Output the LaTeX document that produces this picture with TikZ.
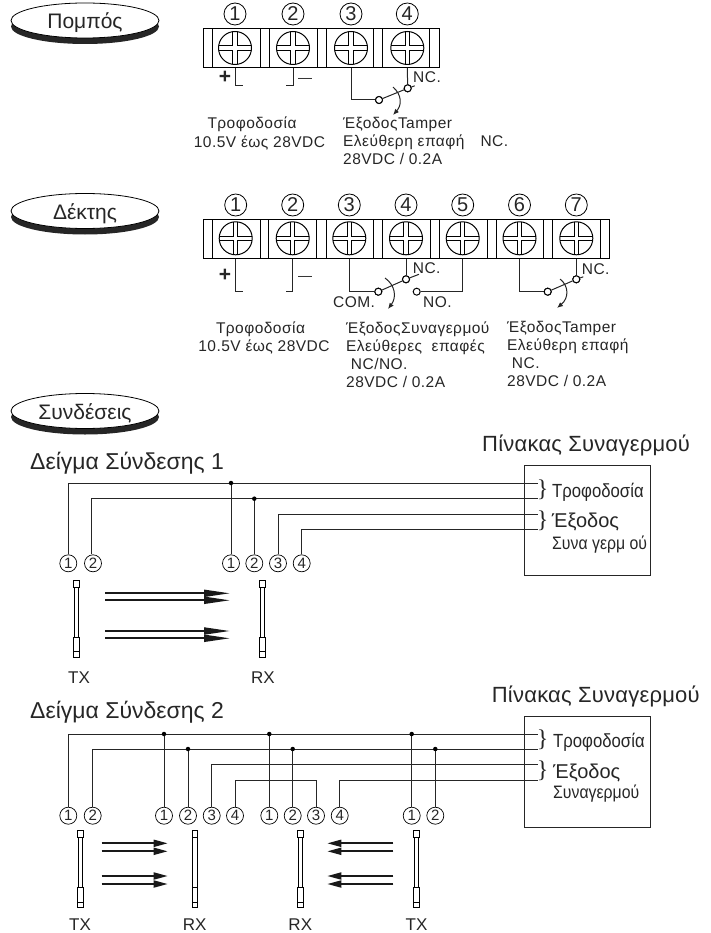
\documentclass[tikz,border=0pt]{standalone}
\usepackage{fontspec}
\setmainfont{Liberation Sans}
\newfontfamily\narrowfont[FakeStretch=0.88]{Liberation Sans}
\newfontfamily\widefont[LetterSpace=3]{Liberation Sans}
\newfontfamily\panelfont[LetterSpace=1]{Liberation Sans}
\newfontfamily\bracefont{Liberation Serif}
\usetikzlibrary{arrows.meta,shapes.geometric}

\tikzset{
  x=1pt, y=-1pt,
  every node/.style={inner sep=0pt, text=black!85},
  txt/.style={font=\widefont\fontsize{15.5}{18}\selectfont, align=left},
  title/.style={font=\fontsize{23}{26}\selectfont},
  paneltitle/.style={font=\panelfont\fontsize{22}{26}\selectfont},
  wire/.style={line width=1pt, black!85},
  num/.style={circle, draw, line width=0.8pt, minimum size=22pt, font=\fontsize{20}{20}\selectfont},
  smallnum/.style={circle, draw, line width=0.7pt, minimum size=17pt, font=\fontsize{15}{15}\selectfont},
  contact/.style={circle, draw, fill=white, line width=1pt, minimum size=7pt},
  dot/.style={circle, fill=black, minimum size=4.5pt},
  screw/.style={circle, draw, line width=1pt, minimum size=33pt, path picture={
      \draw[line width=1pt] ([xshift=-20pt,yshift=2.1pt]path picture bounding box.center) -- ++(40,0);
      \draw[line width=1pt] ([xshift=-20pt,yshift=-2.1pt]path picture bounding box.center) -- ++(40,0);
      \draw[line width=1pt] ([xshift=-2.1pt,yshift=-20pt]path picture bounding box.center) -- ++(0,-40);
      \draw[line width=1pt] ([xshift=2.1pt,yshift=-20pt]path picture bounding box.center) -- ++(0,-40);
      \fill[white] ([xshift=-1.6pt,yshift=-20pt]path picture bounding box.center) rectangle ++(3.2,-40);
      \fill[white] ([xshift=-20pt,yshift=-1.6pt]path picture bounding box.center) rectangle ++(40,-3.2);
  }},
  beam/.style={line width=1.8pt, black!90, -{Stealth[inset=0pt,length=14pt,width=7pt]}},
  longbeam/.style={line width=1.8pt, black!90, -{Stealth[inset=0pt,length=26pt,width=7pt]}},
  bar/.style={draw, line width=0.6pt, fill=white, minimum width=4.4pt, minimum height=77pt},
  barcap/.style={draw, line width=0.6pt, fill=white, minimum width=5.8pt},
  panel/.style={draw, line width=1pt, black!85},
  disk/.style={ellipse, minimum width=148pt, minimum height=35pt},
}
% thin sensor column with its two end pieces
\newcommand{\sensor}[3]{
  \node[bar] (#1) at (#2,#3) {};
  \node[barcap, minimum height=7pt, anchor=north] at (#1.north) {};
  \node[barcap, minimum height=20pt, anchor=south] at (#1.south) {};
  \draw[line width=0.6pt] ([yshift=6pt]#1.south west) -- ([yshift=6pt]#1.south east);
}

\begin{document}
\begin{tikzpicture}
  \useasboundingbox (0,0) rectangle (710,933);

  % Headings
  \foreach \n/\y/\h in {ptx/20.5/Πομπός, rxh/211/Δέκτης, cnh/411/Συνδέσεις}{
    \node[disk, fill=black!85] at (85,\y+6) {};
    \node[disk, draw, line width=0.8pt, fill=white] (\n) at (85,\y) {};
    \node[font=\fontsize{21}{21}\selectfont] at (85,\y+2.5) {\h};
  }

  % Transmitter terminals
  \draw[line width=1pt] (203,28.5) rectangle (439,67.7);
  \foreach \x in {212,260,269,317,326,373,382.7,429}
    \draw[line width=0.9pt] (\x,28.5) -- (\x,67.7);
  \foreach \n/\x in {1/235,2/293,3/351,4/407.3}{
    \node[num] (tn\n) at (\x,14) {\n};
    \node[screw] (ts\n) at (\x,48) {};
    \coordinate (tb\n) at (\x,67.7);
  }
  \node[font=\bfseries\fontsize{21}{21}\selectfont] at (225,77) {+};
  \node[font=\fontsize{14}{14}\selectfont] at (305,80) {---};
  \draw[wire] (tb1) |- (243,86);
  \draw[wire] (tb2) |- (286,86);
  \node[contact] (tc1) at (379,100) {};
  \node[contact] (tc2) at (407.7,88.3) {};
  \draw[wire] (tb3) |- (tc1);
  \draw[wire] (tb4) -- (tc2);
  \draw[wire] (tc1) -- (tc2) -- ++(7,-2.5);
  \node[contact] at (tc1) {};
  \node[contact] at (tc2) {};
  \coordinate (ta1) at (393,87);
  \coordinate (ta2) at (393,115);
  \draw[wire, -{Latex[length=6pt,width=5pt]}] (ta1) .. controls (402,95) and (402,105) .. (ta2);
  \node[txt, anchor=west] at (413,77) {NC.};
  \node[txt, anchor=north] at (252,117) {Τροφοδοσία};
  \node[txt, anchor=north] at (259.5,136) {10.5V έως 28VDC};
  \node[txt, anchor=north west] at (343,117) {ΈξοδοςTamper\\Ελεύθερη επαφή\hspace{16pt}NC.\\28VDC / 0.2A};

  % Receiver terminals
  \draw[line width=1pt] (203.3,219.3) rectangle (609.3,258.7);
  \foreach \x in {212,260,268.3,316.7,326,373.3,382.7,430,439.3,487.3,496,543.3,552.7,600}
    \draw[line width=0.9pt] (\x,219.3) -- (\x,258.7);
  \foreach \n/\x in {1/235.7,2/292.7,3/349.3,4/406,5/462.7,6/519.5,7/576.3}{
    \node[num] (rn\n) at (\x,205) {\n};
    \node[screw] (rs\n) at (\x,238.3) {};
    \coordinate (rb\n) at (\x,258.7);
  }
  \node[font=\bfseries\fontsize{21}{21}\selectfont] at (225,275) {+};
  \node[font=\fontsize{14}{14}\selectfont] at (305,278) {---};
  \draw[wire] (rb1) |- (243.3,291.7);
  \draw[wire] (rb2) |- (285.7,291.7);
  \node[contact] (rc1) at (378.3,291.7) {};
  \node[contact] (rc2) at (406,279.3) {};
  \node[contact] (rc3) at (416.7,291.7) {};
  \draw[wire] (rb3) |- (rc1);
  \draw[wire] (rb4) -- (rc2);
  \draw[wire] (rb5) |- (rc3);
  \draw[wire] (rc1) -- (rc2) -- ++(13,-5);
  \node[contact] at (rc1) {};
  \node[contact] at (rc2) {};
  \coordinate (ra1) at (385,278);
  \coordinate (ra2) at (388,309);
  \draw[wire, -{Latex[length=6pt,width=5pt]}] (ra1) .. controls (395,285) and (397,297) .. (ra2);
  \node[contact] (rc4) at (547.7,291.7) {};
  \node[contact] (rc5) at (576.3,279.3) {};
  \draw[wire] (rb6) |- (rc4);
  \draw[wire] (rb7) -- (rc5);
  \draw[wire] (rc4) -- (rc5) -- ++(7,-2.5);
  \node[contact] at (rc4) {};
  \node[contact] at (rc5) {};
  \coordinate (ra3) at (560,279);
  \coordinate (ra4) at (557,308);
  \draw[wire, -{Latex[length=6pt,width=5pt]}] (ra3) .. controls (569,286) and (569,298) .. (ra4);
  \node[txt, anchor=west] at (412.7,268) {NC.};
  \node[txt, anchor=west] at (333,302) {COM.};
  \node[txt, anchor=west] at (423,302) {NO.};
  \node[txt, anchor=west] at (581.7,269) {NC.};
  \node[txt, anchor=north] at (260.5,321.5) {Τροφοδοσία};
  \node[txt, anchor=north] at (264,340) {10.5V έως 28VDC};
  \node[txt, anchor=north west] at (346,321.5) {ΈξοδοςΣυναγερμού\\Ελεύθερες\ \ επαφές\\\ NC/NO.\\28VDC / 0.2A};
  \node[txt, anchor=north west] at (507,321.5) {ΈξοδοςTamper\\Ελεύθερη επαφή\\\ NC.\\28VDC / 0.2A};

  % Example 1
  \node[title, anchor=west] at (30,463) {Δείγμα Σύνδεσης 1};
  \node[paneltitle, anchor=west] at (482,445) {Πίνακας Συναγερμού};
  \node[panel, minimum width=126pt, minimum height=110.3pt] (pa) at (587,520.8) {};
  \foreach \n/\x in {1/68.3,2/93}
    \node[smallnum] (ax\n) at (\x,563.3) {\n};
  \foreach \n/\x in {1/231,2/254.3,3/278,4/301.7}
    \node[smallnum] (ay\n) at (\x,563.3) {\n};
  \coordinate (ae1) at (537.7,483);
  \coordinate (ae2) at (537.7,498.7);
  \coordinate (ae3) at (537.7,514);
  \coordinate (ae4) at (537.7,529.7);
  \draw[wire] (ax1.north) |- (ae1);
  \draw[wire] (ax2.north) ++(-1.3,0) |- (ae2);
  \draw[wire] (ay3.north) |- (ae3);
  \draw[wire] (ay4.north) |- (ae4);
  \draw[wire] (ay1.north) -- (ay1.north |- ae1) node[dot] {};
  \draw[wire] (ay2.north) -- (ay2.north |- ae2) node[dot] {};
  \sensor{atx}{76.3}{618.5}
  \sensor{arx}{262.3}{618.5}
  \foreach \y in {593.3,600.3,631,638.3}
    \draw[longbeam] (105,\y) -- (230,\y);
  \node[font=\fontsize{17}{17}\selectfont] at (79,678) {TX};
  \node[font=\fontsize{17}{17}\selectfont] at (263,678) {RX};
  \node[font=\bracefont\fontsize{24}{24}\selectfont] at (542.7,489.5) {\}};
  \node[font=\bracefont\fontsize{24}{24}\selectfont] at (542.7,520.5) {\}};
  \node[font=\narrowfont\fontsize{19}{19}\selectfont, anchor=west] at (552,492.7) {Τροφοδοσία};
  \node[font=\fontsize{20}{20}\selectfont, anchor=west] at (551.7,522) {Έξοδος};
  \node[font=\narrowfont\fontsize{18}{18}\selectfont, anchor=west] at (552,545) {Συνα γερμ ού};

  % Example 2
  \node[title, anchor=west] at (30,712.7) {Δείγμα Σύνδεσης 2};
  \node[paneltitle, anchor=west] at (491.7,696.7) {Πίνακας Συναγερμού};
  \node[panel, minimum width=126pt, minimum height=110.6pt] (pb) at (587,772) {};
  \foreach \n/\x in {1/68.3,2/92.7}
    \node[smallnum] (bu\n) at (\x,815.7) {\n};
  \foreach \n/\x in {1/164,2/188,3/211.7,4/235}
    \node[smallnum] (bv\n) at (\x,815.7) {\n};
  \foreach \n/\x in {1/269.3,2/292.7,3/316,4/339.7}
    \node[smallnum] (bw\n) at (\x,815.7) {\n};
  \foreach \n/\x in {1/411.7,2/435.3}
    \node[smallnum] (bz\n) at (\x,815.7) {\n};
  \coordinate (be1) at (537.7,734);
  \coordinate (be2) at (537.7,749);
  \coordinate (be3) at (537.7,764);
  \coordinate (be4) at (537.7,780.3);
  \draw[wire] (bu1.north) |- (be1);
  \draw[wire] (bu2.north) |- (be2);
  \draw[wire] (bv3.north) |- (be3);
  \draw[wire] (bv4.north) |- (bw3.north |- be4) -- (bw3.north);
  \draw[wire] (bw4.north) |- (be4);
  \foreach \c in {bv1,bw1,bz1}
    \draw[wire] (\c.north) -- (\c.north |- be1) node[dot] {};
  \foreach \c in {bv2,bw2,bz2}
    \draw[wire] (\c.north) -- (\c.north |- be2) node[dot] {};
  \foreach \n/\x/\t in {a/80/TX,b/194.7/RX,c/300.3/RX,d/416.5/TX}{
    \sensor{bs\n}{\x}{869}
    \node[font=\fontsize{17}{17}\selectfont] at (\x,924.5) {\t};
  }
  \foreach \y in {843.3,851.3,876,884}{
    \draw[beam] (101.7,\y) -- (167.7,\y);
    \draw[beam] (393.3,\y) -- (327.3,\y);
  }
  \node[font=\bracefont\fontsize{24}{24}\selectfont] at (542.7,739.5) {\}};
  \node[font=\bracefont\fontsize{24}{24}\selectfont] at (542.7,771) {\}};
  \node[font=\narrowfont\fontsize{19}{19}\selectfont, anchor=west] at (553,742.3) {Τροφοδοσία};
  \node[font=\fontsize{20}{20}\selectfont, anchor=west] at (553,773.3) {Έξοδος};
  \node[font=\narrowfont\fontsize{18}{18}\selectfont, anchor=west] at (553,793.3) {Συναγερμού};
\end{tikzpicture}
\end{document}
